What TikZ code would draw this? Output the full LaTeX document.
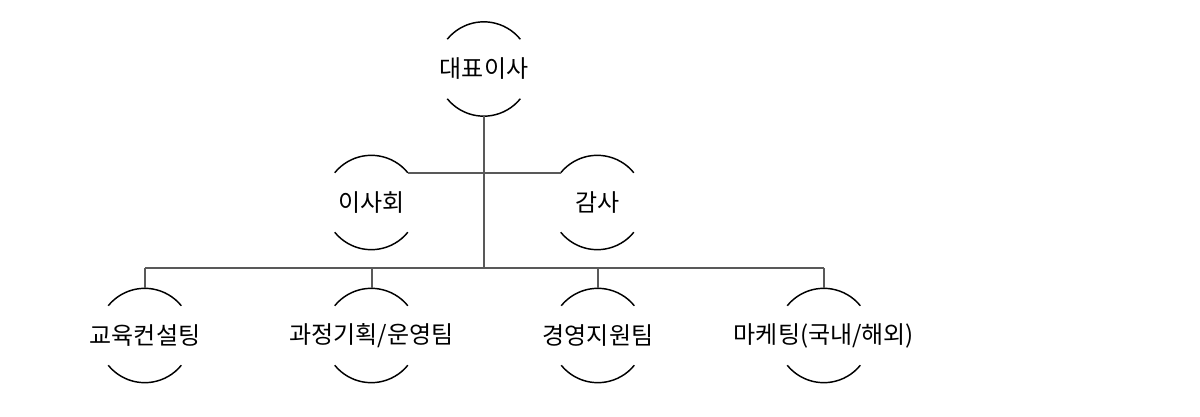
\documentclass[tikz,border=0pt]{standalone}
\usepackage{fontspec}
\newfontfamily\kofont{Noto Sans CJK KR}
\tikzset{
  unit/.style={circle, minimum size=70.5pt, inner sep=0pt, font=\kofont\fontsize{18pt}{21pt}\selectfont},
  rim/.style={line width=1.1pt, black},
  link/.style={line width=1.5pt, color={rgb, 255:red, 89; green, 89; blue, 89}}
}
\begin{document}
\begin{tikzpicture}[x=0.75pt,y=0.75pt,yscale=-1,xscale=1]
\useasboundingbox (0,0) rectangle (1200,417);

% Text Node
\node [unit] (ceo) at (484,69) {\makebox[0pt]{대표이사}};
% Text Node
\node [unit] (board) at (371.5,202.5) {\makebox[0pt]{이사회}};
% Text Node
\node [unit] (audit) at (597.5,202.5) {\makebox[0pt]{감사}};
% Text Node
\node [unit] (edu) at (145,335.5) {\makebox[0pt]{교육컨설팅}};
% Text Node
\node [unit] (plan) at (371.5,335.5) {\makebox[0pt]{과정기획/운영팀}};
% Text Node
\node [unit] (mgmt) at (598,335.5) {\makebox[0pt]{경영지원팀}};
% Text Node
\node [unit] (mkt) at (824,335.5) {\makebox[0pt]{마케팅(국내/해외)}};
\coordinate (bus) at (484,268);

%Arcs
\foreach \n in {ceo,board,audit,edu,plan,mgmt,mkt} {
  \draw [rim] (\n.141) arc [start angle=-141, end angle=-39, radius=47];
  \draw [rim] (\n.-141) arc [start angle=141, end angle=39, radius=47];
}

%Straight Lines
\draw [link] (ceo.south) -- (bus);
\draw [link] (board.39) -- (audit.141);
\draw [link] (edu.north |- bus) -- (mkt.north |- bus);
\foreach \n in {edu,plan,mgmt,mkt}
  \draw [link] (\n.north |- bus) -- (\n.north);

\end{tikzpicture}
\end{document}
